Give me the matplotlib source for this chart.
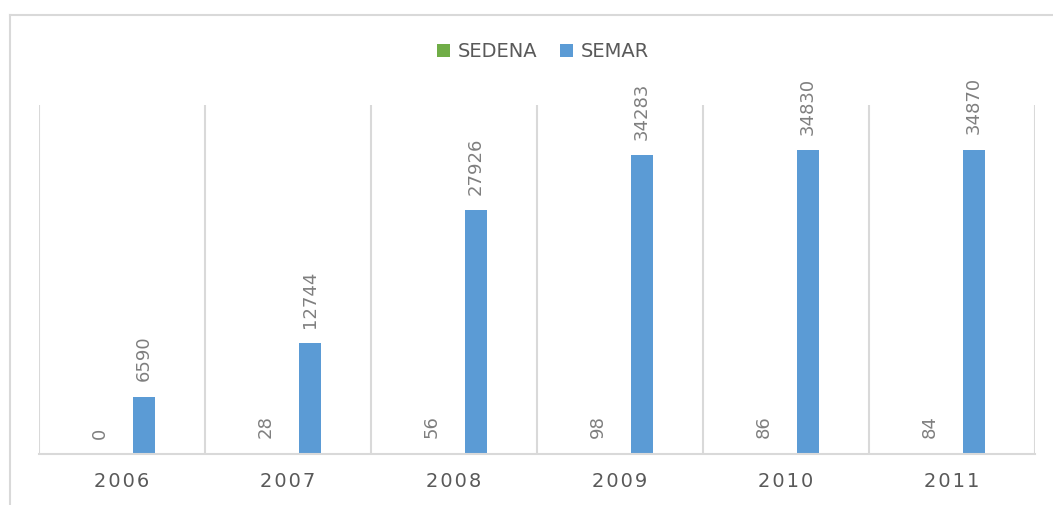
import matplotlib.pyplot as plt
from matplotlib.lines import Line2D
import numpy as np

# Data
years = ['2006', '2007', '2008', '2009', '2010', '2011']
sedena = [0, 28, 56, 98, 86, 84]
semar = [6590, 12744, 27926, 34283, 34830, 34870]

green = '#70ad47'
blue = '#5b9bd5'
grid_col = '#d9d9d9'

W, H = 1053, 505
fig = plt.figure(figsize=(W / 100, H / 100), dpi=100)
ax = fig.add_axes([39 / W, (H - 454) / H, (1035 - 39) / W, (454 - 105) / H])

x = np.arange(len(years))
bw = 0.133
b1 = ax.bar(x - bw, sedena, bw, color=green, label='SEDENA')
b2 = ax.bar(x + bw, semar, bw, color=blue, label='SEMAR')

# Value labels, rotated like the original
for bars, vals in ((b1, sedena), (b2, semar)):
    for rect, v in zip(bars, vals):
        ax.annotate(str(v), (rect.get_x() + rect.get_width() / 2, rect.get_height()),
                    xytext=(0, 11), textcoords='offset points', rotation=90,
                    ha='center', va='bottom', fontsize=13, color='#7f7f7f')

ax.set_xlim(-0.5, len(years) - 0.5)
ax.set_ylim(0, 40000)

# Category separators
ax.vlines(np.arange(len(years) + 1) - 0.5, 0, 40000, color=grid_col, lw=1.5, zorder=0)

for s in ['top', 'right', 'left']:
    ax.spines[s].set_visible(False)
ax.spines['bottom'].set_color(grid_col)
ax.spines['bottom'].set_linewidth(1.5)
ax.set_yticks([])
ax.set_xticks(x)
# spaced-out year labels
ax.set_xticklabels(['\u200a'.join(y) for y in years], fontsize=14, color='#595959')
ax.tick_params(axis='x', length=0, pad=13)

leg = ax.legend(loc='center', bbox_to_anchor=(0.506, 1.152), ncol=2, frameon=False,
                fontsize=14, handlelength=0.65, handleheight=0.65, handletextpad=0.4,
                columnspacing=1.2)
for t in leg.get_texts():
    t.set_color('#595959')

# Outer chart border (top and left edges visible)
fig.add_artist(Line2D([10 / W, 1], [1 - 15 / H, 1 - 15 / H], color=grid_col, lw=1.5))
fig.add_artist(Line2D([10 / W, 10 / W], [0, 1 - 15 / H], color=grid_col, lw=1.5))

plt.savefig('out.png', dpi=100)
